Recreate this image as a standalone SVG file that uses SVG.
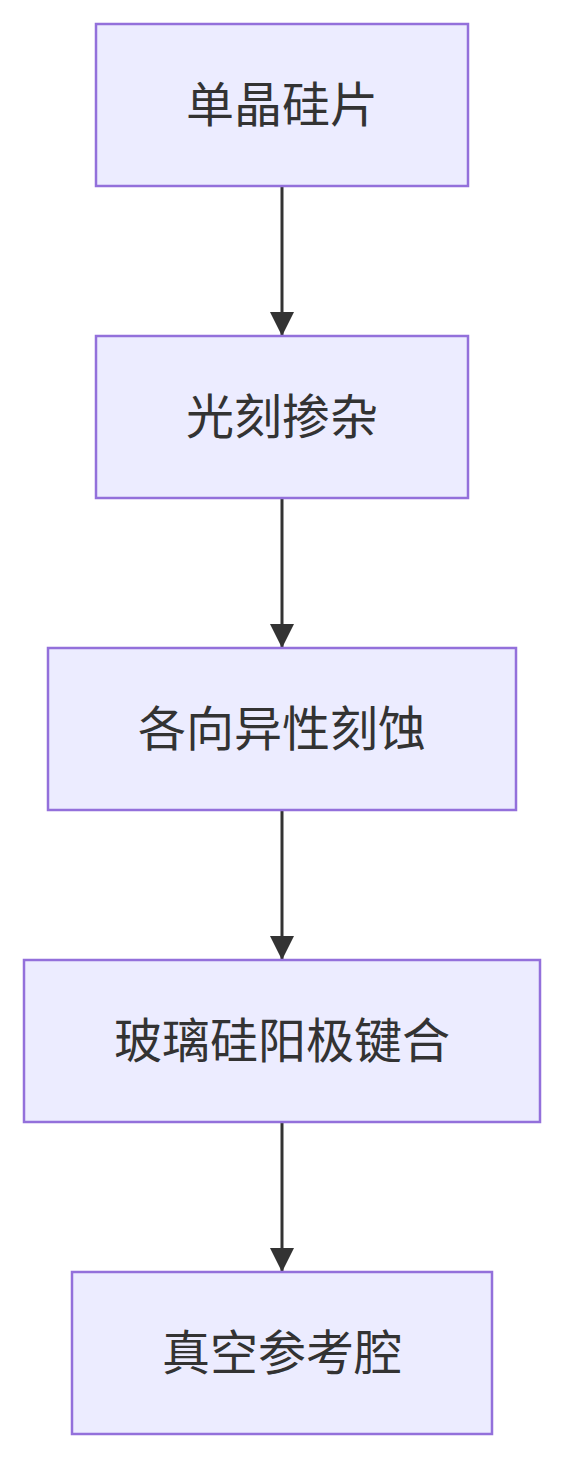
<svg xmlns="http://www.w3.org/2000/svg" width="564" height="1458" viewBox="0 0 564 1458">
<style>
.node rect{fill:#ECECFF;stroke:#9370DB;stroke-width:2.5;}
.node text{font-family:"Noto Sans CJK SC","Noto Sans",sans-serif;font-size:48px;fill:#333;text-anchor:middle;}
.edge{stroke:#333;stroke-width:3;fill:none;}
</style>
<defs>
<marker id="arrow" markerUnits="userSpaceOnUse" viewBox="0 0 24 24" refX="24" refY="12" markerWidth="24" markerHeight="24" orient="auto">
<path d="M0,0 L24,12 L0,24 Z" fill="#333"/>
</marker>
</defs>
<rect width="564" height="1458" fill="#fff"/>
<g id="connectors">
<line class="edge" x1="282" y1="187" x2="282" y2="336" marker-end="url(#arrow)"/>
<line class="edge" x1="282" y1="499" x2="282" y2="648" marker-end="url(#arrow)"/>
<line class="edge" x1="282" y1="811" x2="282" y2="960" marker-end="url(#arrow)"/>
<line class="edge" x1="282" y1="1123" x2="282" y2="1272" marker-end="url(#arrow)"/>
</g>
<g id="n1" class="node"><rect x="96" y="24" width="372" height="162"/><text x="282" y="122">单晶硅片</text></g>
<g id="n2" class="node"><rect x="96" y="336" width="372" height="162"/><text x="282" y="434">光刻掺杂</text></g>
<g id="n3" class="node"><rect x="48" y="648" width="468" height="162"/><text x="282" y="746">各向异性刻蚀</text></g>
<g id="n4" class="node"><rect x="24" y="960" width="516" height="162"/><text x="282" y="1058">玻璃硅阳极键合</text></g>
<g id="n5" class="node"><rect x="72" y="1272" width="420" height="162"/><text x="282" y="1370">真空参考腔</text></g>
</svg>
